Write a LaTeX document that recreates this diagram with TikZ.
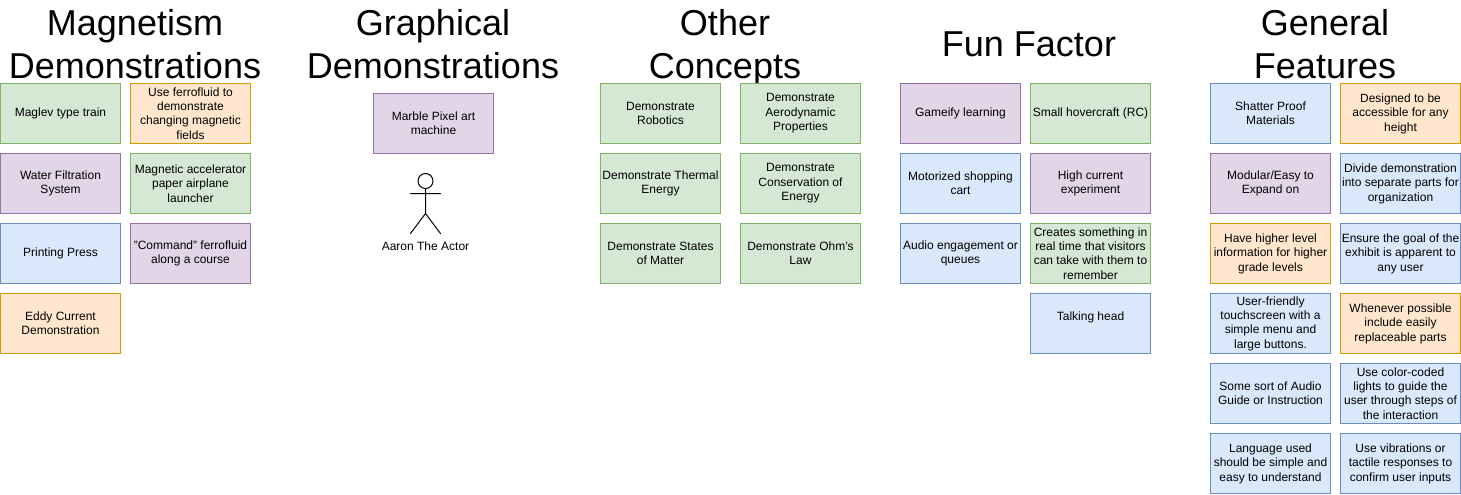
\documentclass[tikz,border=0pt]{standalone}
\usepackage{fontspec}
\setmainfont{Liberation Sans}
\definecolor{gf}{HTML}{D5E8D4}\definecolor{gd}{HTML}{82B366}
\definecolor{of}{HTML}{FFE6CC}\definecolor{od}{HTML}{D79B00}
\definecolor{pf}{HTML}{E1D5E7}\definecolor{pd}{HTML}{9673A6}
\definecolor{bf}{HTML}{DAE8FC}\definecolor{bd}{HTML}{6C8EBF}
\tikzset{
  card/.style={draw, line width=0.75pt, outer sep=0pt, anchor=north west, minimum width=90pt, minimum height=45pt,
    inner sep=0pt, align=center, text=black, font=\fontsize{9}{10.8}\selectfont},
  cgreen/.style={card, fill=gf, draw=gd},
  corange/.style={card, fill=of, draw=od},
  cpurple/.style={card, fill=pf, draw=pd},
  cblue/.style={card, fill=bf, draw=bd},
  heading/.style={inner sep=0pt, outer sep=0pt, align=center, text=black, font=\fontsize{27}{32.4}\selectfont},
  stick/.style={line width=0.75pt, draw=black, line cap=round},
}
\begin{document}
\begin{tikzpicture}[x=0.75pt,y=-0.75pt]
\useasboundingbox (0,0) rectangle (1461,494);
\fill[white] (0,0) rectangle (1461,494);
% headings
\node[heading] (h1) at (135,48) {\strut Magnetism\\\strut Demonstrations};
\node[heading] (h2) at (433,48) {\strut Graphical\\\strut Demonstrations};
\node[heading] (h3) at (725,48) {\strut Other\\\strut Concepts};
\node[heading] (h4) at (1029,48) {\strut Fun Factor};
\node[heading] (h5) at (1325,48) {\strut General\\\strut Features};
% magnetism
\node[cgreen] (m1) at (0.5,83.5) {Maglev type train};
\node[cpurple] (m2) at (0.5,153.5) {Water Filtration\\System};
\node[cblue] (m3) at (0.5,223.5) {Printing Press};
\node[corange] (m4) at (0.5,293.5) {Eddy Current\\Demonstration};
\node[corange] (m5) at (130.5,83.5) {Use ferrofluid to\\demonstrate\\changing magnetic\\fields};
\node[cgreen] (m6) at (130.5,153.5) {Magnetic accelerator\\paper airplane\\launcher};
\node[cpurple] (m7) at (130.5,223.5) {"Command" ferrofluid\\along a course};
% graphical
\node[cpurple] (g1) at (373.5,93.5) {Marble Pixel art\\machine};
\draw[stick] (425.5,181) circle[radius=7.5];
\draw[stick] (425.5,188.5) -- (425.5,213.5) (410.5,193.5) -- (440.5,193.5)
  (410.5,233.5) -- (425.5,213.5) -- (440.5,233.5);
\node[inner sep=0pt, text=black, font=\fontsize{9}{10.8}\selectfont] (g2) at (425.5,246.5) {Aaron The Actor};
% other concepts
\node[cgreen] (o1) at (600.5,83.5) {Demonstrate\\Robotics};
\node[cgreen] (o2) at (600.5,153.5) {Demonstrate Thermal\\Energy};
\node[cgreen] (o3) at (600.5,223.5) {Demonstrate States\\of Matter};
\node[cgreen] (o4) at (740.5,83.5) {Demonstrate\\Aerodynamic\\Properties};
\node[cgreen] (o5) at (740.5,153.5) {Demonstrate\\Conservation of\\Energy};
\node[cgreen] (o6) at (740.5,223.5) {Demonstrate Ohm's\\Law};
% fun factor
\node[cpurple] (f1) at (900.5,83.5) {Gameify learning};
\node[cblue] (f2) at (900.5,153.5) {Motorized shopping\\cart};
\node[cblue] (f3) at (900.5,223.5) {Audio engagement or\\queues};
\node[cgreen] (f4) at (1030.5,83.5) {Small hovercraft (RC)};
\node[cpurple] (f5) at (1030.5,153.5) {High current\\experiment};
\node[cgreen] (f6) at (1030.5,223.5) {Creates something in\\real time that visitors\\can take with them to\\remember};
\node[cblue] (f7) at (1030.5,293.5) {Talking head\\\mbox{}};
% general features
\node[cblue] (a1) at (1210.5,83.5) {Shatter Proof\\Materials};
\node[cpurple] (a2) at (1210.5,153.5) {Modular/Easy to\\Expand on};
\node[corange] (a3) at (1210.5,223.5) {Have higher level\\information for higher\\grade levels};
\node[cblue] (a4) at (1210.5,293.5) {User-friendly\\touchscreen with a\\simple menu and\\large buttons.};
\node[cblue] (a5) at (1210.5,363.5) {Some sort of Audio\\Guide or Instruction};
\node[cblue] (a6) at (1210.5,433.5) {Language used\\should be simple and\\easy to understand};
\node[corange] (b1) at (1340.5,83.5) {Designed to be\\accessible for any\\height};
\node[cblue] (b2) at (1340.5,153.5) {Divide demonstration\\into separate parts for\\organization};
\node[cblue] (b3) at (1340.5,223.5) {Ensure the goal of the\\exhibit is apparent to\\any user};
\node[corange] (b4) at (1340.5,293.5) {Whenever possible\\include easily\\replaceable parts};
\node[cblue] (b5) at (1340.5,363.5) {Use color-coded\\lights to guide the\\user through steps of\\the interaction};
\node[cblue] (b6) at (1340.5,433.5) {Use vibrations or\\tactile responses to\\confirm user inputs};
\end{tikzpicture}
\end{document}
